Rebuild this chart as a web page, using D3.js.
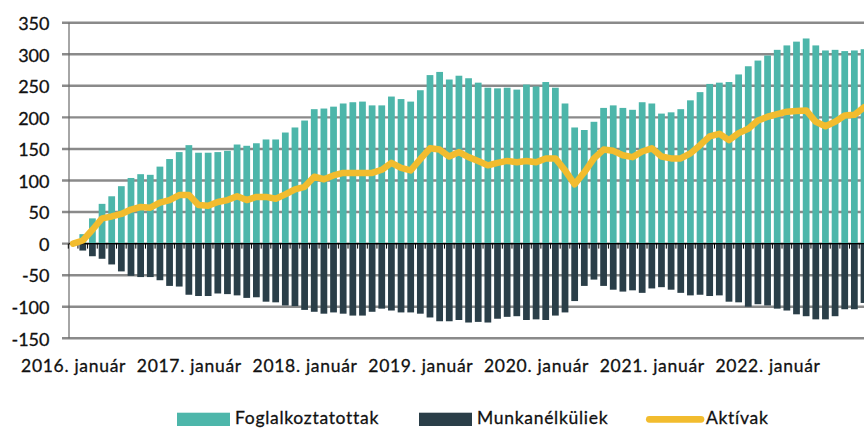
<!DOCTYPE html>
<html><head><meta charset="utf-8">
<script src="https://cdn.jsdelivr.net/npm/d3@7"></script>
<style>
html,body{margin:0;padding:0;background:#fff;}
svg{display:block;font-family:Lato,"Noto Sans",sans-serif;}
</style>
</head><body>
<svg id="chart" width="864" height="429"></svg>
<script>
// ---------------- DATA ----------------
const years = [2016, 2017, 2018, 2019, 2020, 2021, 2022];
const monthCodes = ["01","02","03","04","05","06","07","08","09","10","11","12"];
const categories = years.flatMap(y => monthCodes.map(m => y + "-" + m)).slice(0, 83); // 2016-01 .. 2022-11

const foglalkoztatottak = [
  0, 15, 40, 63, 75, 91, 104, 110, 109, 122, 134, 145,
  156, 144, 144, 145, 147, 157, 155, 159, 165, 165, 176, 184,
  195, 213, 214, 217, 222, 224, 225, 219, 219, 233, 229, 225,
  243, 267, 272, 260, 266, 262, 255, 247, 246, 247, 244, 252,
  249, 256, 247, 222, 184, 180, 193, 215, 219, 215, 212, 224,
  222, 206, 208, 213, 227, 240, 253, 255, 256, 268, 281, 290,
  298, 307, 314, 320, 325, 314, 306, 307, 305, 306, 308
];
const munkanelkuliek = [
  0, -11, -20, -24, -33, -44, -51, -53, -53, -58, -67, -68,
  -81, -83, -83, -79, -80, -82, -86, -85, -92, -93, -98, -99,
  -105, -108, -111, -109, -111, -114, -114, -108, -103, -106, -109, -109,
  -111, -117, -123, -123, -121, -125, -124, -125, -119, -116, -115, -121,
  -120, -121, -114, -109, -91, -67, -57, -67, -73, -76, -74, -78,
  -71, -69, -73, -78, -82, -81, -83, -82, -92, -93, -100, -96,
  -98, -103, -106, -112, -115, -120, -120, -115, -104, -104, -94
];
const aktivak = [
  0, 5, 22, 40, 43, 47, 54, 58, 57, 65, 69, 77,
  77, 61, 60, 66, 69, 75, 69, 74, 74, 71, 78, 86,
  90, 106, 102, 108, 112, 112, 112, 112, 117, 128, 120, 116,
  134, 151, 149, 138, 145, 137, 131, 124, 128, 131, 129, 131,
  129, 135, 135, 116, 94, 113, 135, 149, 147, 140, 137, 146,
  151, 138, 135, 135, 143, 156, 170, 174, 164, 175, 182, 195,
  201, 205, 209, 210, 211, 193, 186, 193, 203, 204, 216
];
const yTicks = [-150, -100, -50, 0, 50, 100, 150, 200, 250, 300, 350];
const xTickCategories = ["2016-01","2017-01","2018-01","2019-01","2020-01","2021-01","2022-01"];
const xTickLabels = ["2016. január","2017. január","2018. január","2019. január","2020. január","2021. január","2022. január"];
const seriesNames = ["Foglalkoztatottak", "Munkanélküliek", "Aktívak"];
const seriesColors = ["#4db6aa", "#2a3e48", "#f2bc2e"];

// ---------------- CHART ----------------
const svg = d3.select("#chart");
svg.append("rect").attr("width", 864).attr("height", 429).attr("fill", "#fff");

const step = 9.645;
const x0 = 68.3;
const x = d3.scaleBand().domain(categories)
  .range([x0, x0 + categories.length * step])
  .paddingInner(0.3).paddingOuter(0.15);
const y = d3.scaleLinear().domain([-150, 350]).range([338.3, 22.7]);
const axisX = 69;
const textColor = "#111";

// gridlines + left ticks
svg.append("g").selectAll("line").data(yTicks).join("line")
  .attr("x1", 62).attr("x2", 864)
  .attr("y1", d => y(d)).attr("y2", d => y(d))
  .attr("stroke", "#8a8a8a").attr("stroke-width", 2.4);

// y axis line
svg.append("line").attr("x1", axisX).attr("x2", axisX)
  .attr("y1", y(350)).attr("y2", y(-150))
  .attr("stroke", "#6b6b6b").attr("stroke-width", 1.2);

// y labels
svg.append("g").selectAll("text").data(yTicks).join("text")
  .attr("x", 49.5).attr("y", d => y(d) + 7.3)
  .attr("text-anchor", "end")
  .attr("font-size", 18).attr("fill", textColor)
  .attr("stroke", textColor).attr("stroke-width", 0.3)
  .text(d => d);

// bars
svg.append("g").selectAll("rect").data(categories).join("rect")
  .attr("x", d => x(d)).attr("width", x.bandwidth())
  .attr("y", (d, i) => y(Math.max(0, foglalkoztatottak[i])))
  .attr("height", (d, i) => Math.abs(y(foglalkoztatottak[i]) - y(0)))
  .attr("fill", seriesColors[0]);
svg.append("g").selectAll("rect").data(categories).join("rect")
  .attr("x", d => x(d)).attr("width", x.bandwidth())
  .attr("y", y(0))
  .attr("height", (d, i) => Math.abs(y(munkanelkuliek[i]) - y(0)))
  .attr("fill", seriesColors[1]);

// zero axis line + category ticks
svg.append("line").attr("x1", axisX).attr("x2", 864)
  .attr("y1", y(0)).attr("y2", y(0))
  .attr("stroke", "#000").attr("stroke-width", 1.1);
const boundaries = d3.range(categories.length + 1).map(k => x0 + k * x.step());
svg.append("g").selectAll("line").data(boundaries).join("line")
  .attr("x1", d => d).attr("x2", d => d)
  .attr("y1", y(0)).attr("y2", y(0) + 5)
  .attr("stroke", "#000").attr("stroke-width", 1);

// line
const line = d3.line()
  .x((d, i) => x(categories[i]) + x.bandwidth() / 2)
  .y(d => y(d));
svg.append("path").datum(aktivak)
  .attr("d", line)
  .attr("fill", "none").attr("stroke", seriesColors[2])
  .attr("stroke-width", 6.5).attr("stroke-linejoin", "round").attr("stroke-linecap", "round");

// x labels
svg.append("g").selectAll("text").data(xTickCategories).join("text")
  .attr("x", d => x(d) + x.bandwidth() / 2 + 0.5)
  .attr("y", 372.3)
  .attr("text-anchor", "middle")
  .attr("font-size", 17.5).attr("letter-spacing", 0.7).attr("fill", textColor)
  .attr("stroke", textColor).attr("stroke-width", 0.3)
  .text((d, i) => xTickLabels[i]);

// legend
const legendX = [177, 419, 646];
const legendTextX = [235, 477, 706];
const lg = svg.append("g");
lg.append("rect").attr("x", legendX[0]).attr("y", 412.7).attr("width", 53).attr("height", 13.3).attr("fill", seriesColors[0]);
lg.append("rect").attr("x", legendX[1]).attr("y", 412.7).attr("width", 53).attr("height", 13.3).attr("fill", seriesColors[1]);
lg.append("line").attr("x1", legendX[2] + 3.3).attr("x2", legendX[2] + 55).attr("y1", 419.3).attr("y2", 419.3)
  .attr("stroke", seriesColors[2]).attr("stroke-width", 6.7).attr("stroke-linecap", "round");
lg.selectAll("text").data(seriesNames).join("text")
  .attr("x", (d, i) => legendTextX[i]).attr("y", 424)
  .attr("font-size", 17.5).attr("letter-spacing", 0.7).attr("fill", textColor)
  .attr("stroke", textColor).attr("stroke-width", 0.3)
  .text(d => d);
</script>
</body></html>
